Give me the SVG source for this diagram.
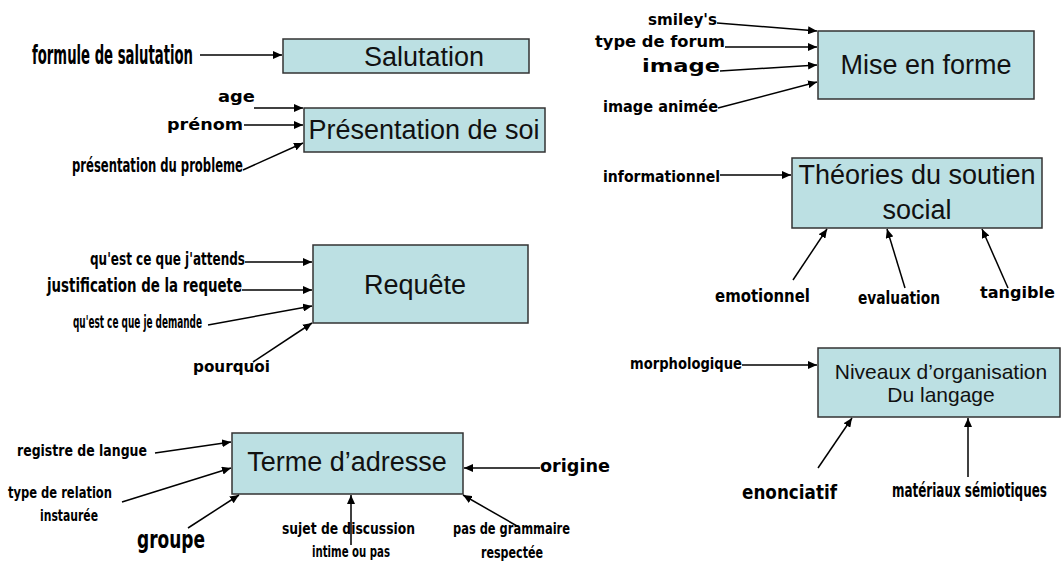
<svg xmlns="http://www.w3.org/2000/svg" width="1064" height="563" viewBox="0 0 1064 563">
<defs>
<marker id="ah" markerUnits="userSpaceOnUse" markerWidth="10" markerHeight="8" refX="9" refY="4" orient="auto">
<path d="M0,0 L9,4 L0,8 Z" fill="#000"/>
</marker>
<style>
.box{fill:#bce0e3;stroke:#333;stroke-width:1.5}
.bt{font-family:"Liberation Sans",Arial,sans-serif;font-size:27px;fill:#111;text-anchor:middle}
.bs{font-family:"Liberation Sans",Arial,sans-serif;font-size:21px;fill:#111;text-anchor:middle}
.hc{font-family:"DejaVu Sans Condensed","DejaVu Sans",sans-serif;font-stretch:condensed;font-weight:bold;fill:#000}
.hw{font-family:"DejaVu Sans",sans-serif;font-weight:bold;fill:#000}
.c{stroke:#000;stroke-width:1.5;fill:none;marker-end:url(#ah)}
</style>
</defs>
<rect width="1064" height="563" fill="#fff"/>

<g id="salutation">
<rect class="box" x="283" y="39" width="246" height="34"/>
<text class="bt" x="424" y="66">Salutation</text>
</g>
<g id="presentation">
<rect class="box" x="304" y="108" width="241" height="44"/>
<text class="bt" x="424" y="139">Présentation de soi</text>
</g>
<g id="requete">
<rect class="box" x="313" y="245" width="215" height="78"/>
<text class="bt" x="415" y="294">Requête</text>
</g>
<g id="terme">
<rect class="box" x="232" y="433" width="231" height="61"/>
<text class="bt" x="347" y="471">Terme d’adresse</text>
</g>
<g id="mise">
<rect class="box" x="818" y="31" width="216" height="68"/>
<text class="bt" x="926" y="74">Mise en forme</text>
</g>
<g id="theories">
<rect class="box" x="792" y="158" width="250" height="70"/>
<text class="bt" x="917" y="184">Théories du soutien</text>
<text class="bt" x="917" y="219">social</text>
</g>
<g id="niveaux">
<rect class="box" x="818" y="348" width="242" height="69"/>
<text class="bs" x="941" y="379">Niveaux d’organisation</text>
<text class="bs" x="941" y="402">Du langage</text>
</g>

<g id="labels">
<text class="hc" x="32" y="64" font-size="27" textLength="161" lengthAdjust="spacingAndGlyphs">formule de salutation</text>
<text class="hw" x="218" y="102" font-size="16" textLength="37" lengthAdjust="spacingAndGlyphs">age</text>
<text class="hw" x="167" y="130" font-size="16" textLength="76" lengthAdjust="spacingAndGlyphs">prénom</text>
<text class="hc" x="72" y="172" font-size="19" textLength="171" lengthAdjust="spacingAndGlyphs">présentation du probleme</text>
<text class="hc" x="90" y="265" font-size="18" textLength="155" lengthAdjust="spacingAndGlyphs">qu'est ce que j'attends</text>
<text class="hc" x="47" y="292" font-size="20" textLength="195" lengthAdjust="spacingAndGlyphs">justification de la requete</text>
<text class="hc" x="73" y="328" font-size="17" textLength="129" lengthAdjust="spacingAndGlyphs">qu'est ce que je demande</text>
<text class="hw" x="193" y="372" font-size="16" textLength="77" lengthAdjust="spacingAndGlyphs">pourquoi</text>
<text class="hw" x="17" y="456" font-size="15" textLength="130" lengthAdjust="spacingAndGlyphs">registre de langue</text>
<text class="hc" x="8" y="498" font-size="15" textLength="104" lengthAdjust="spacingAndGlyphs">type de relation</text>
<text class="hc" x="40" y="521" font-size="15" textLength="58" lengthAdjust="spacingAndGlyphs">instaurée</text>
<text class="hw" x="137" y="548" font-size="24" textLength="68" lengthAdjust="spacingAndGlyphs">groupe</text>
<text class="hc" x="282" y="534" font-size="15" textLength="133" lengthAdjust="spacingAndGlyphs">sujet de discussion</text>
<text class="hc" x="312" y="557" font-size="15" textLength="78" lengthAdjust="spacingAndGlyphs">intime ou pas</text>
<text class="hc" x="453" y="534" font-size="15" textLength="117" lengthAdjust="spacingAndGlyphs">pas de grammaire</text>
<text class="hc" x="481" y="558" font-size="15" textLength="62" lengthAdjust="spacingAndGlyphs">respectée</text>
<text class="hw" x="540" y="472" font-size="18" textLength="70" lengthAdjust="spacingAndGlyphs">origine</text>
<text class="hw" x="648" y="25" font-size="15" textLength="69" lengthAdjust="spacingAndGlyphs">smiley's</text>
<text class="hw" x="595" y="47" font-size="15" textLength="130" lengthAdjust="spacingAndGlyphs">type de forum</text>
<text class="hw" x="642" y="72" font-size="18" textLength="78" lengthAdjust="spacingAndGlyphs">image</text>
<text class="hw" x="603" y="112" font-size="15" textLength="115" lengthAdjust="spacingAndGlyphs">image animée</text>
<text class="hc" x="603" y="182" font-size="15" textLength="117" lengthAdjust="spacingAndGlyphs">informationnel</text>
<text class="hw" x="715" y="302" font-size="17" textLength="95" lengthAdjust="spacingAndGlyphs">emotionnel</text>
<text class="hc" x="858" y="304" font-size="17" textLength="82" lengthAdjust="spacingAndGlyphs">evaluation</text>
<text class="hw" x="980" y="298" font-size="16" textLength="75" lengthAdjust="spacingAndGlyphs">tangible</text>
<text class="hw" x="630" y="369" font-size="15" textLength="112" lengthAdjust="spacingAndGlyphs">morphologique</text>
<text class="hw" x="742" y="499" font-size="20" textLength="95" lengthAdjust="spacingAndGlyphs">enonciatif</text>
<text class="hc" x="0" y="0" font-size="20" transform="translate(892,497) scale(0.665,1)">matériaux sémiotiques</text>
</g>

<g id="connectors">
<line class="c" x1="200" y1="55" x2="282" y2="55"/>
<line class="c" x1="254" y1="108" x2="303" y2="108"/>
<line class="c" x1="244" y1="125" x2="303" y2="125"/>
<line class="c" x1="243" y1="170" x2="303" y2="143"/>
<line class="c" x1="245" y1="262" x2="312" y2="262"/>
<line class="c" x1="242" y1="290" x2="312" y2="290"/>
<line class="c" x1="208" y1="325" x2="312" y2="306"/>
<line class="c" x1="253" y1="362" x2="312" y2="323"/>
<line class="c" x1="155" y1="453" x2="231" y2="442"/>
<line class="c" x1="122" y1="502" x2="231" y2="468"/>
<line class="c" x1="188" y1="528" x2="239" y2="495"/>
<line class="c" x1="351" y1="545" x2="351" y2="495"/>
<line class="c" x1="517" y1="526" x2="463" y2="495"/>
<line class="c" x1="540" y1="468" x2="464" y2="468"/>
<line class="c" x1="717" y1="23" x2="817" y2="31"/>
<line class="c" x1="725" y1="47" x2="817" y2="47"/>
<line class="c" x1="720" y1="71" x2="817" y2="65"/>
<line class="c" x1="718" y1="108" x2="817" y2="82"/>
<line class="c" x1="720" y1="175" x2="791" y2="175"/>
<line class="c" x1="793" y1="280" x2="827" y2="229"/>
<line class="c" x1="905" y1="288" x2="887" y2="229"/>
<line class="c" x1="1008" y1="288" x2="982" y2="229"/>
<line class="c" x1="742" y1="365" x2="817" y2="365"/>
<line class="c" x1="818" y1="468" x2="852" y2="418"/>
<line class="c" x1="968" y1="477" x2="968" y2="418"/>
</g>
</svg>
